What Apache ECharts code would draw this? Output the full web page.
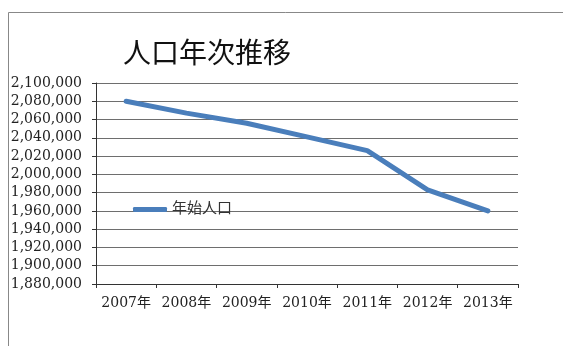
<!DOCTYPE html>
<html>
<head>
<meta charset="utf-8">
<script src="https://cdn.jsdelivr.net/npm/echarts@6/dist/echarts.min.js"></script>
<style>
  html, body { margin: 0; padding: 0; background: #fff; }
  #chart { width: 566px; height: 346px; }
</style>
</head>
<body>
<div id="chart"></div>
<script>
// 年始人口の推移
const years = ['2007年', '2008年', '2009年', '2010年', '2011年', '2012年', '2013年'];
const population = [2080000, 2067000, 2056000, 2041000, 2026000, 1983000, 1960000];
const seriesName = '年始人口';
const titleText = '人口年次推移';

const serif = '"DejaVu Serif", "Noto Sans CJK JP", serif';
const chart = echarts.init(document.getElementById('chart'), null, { renderer: 'canvas' });

chart.setOption({
  backgroundColor: '#ffffff',
  animation: false,
  title: {
    text: titleText,
    left: 118,
    top: 33,
    textStyle: { fontFamily: '"Noto Sans CJK JP", sans-serif', fontSize: 28, fontWeight: 'normal', color: '#111' }
  },
  legend: {
    data: [{ name: seriesName, icon: 'roundRect' }],
    left: 128,
    top: 197,
    itemWidth: 34,
    itemHeight: 5,
    itemGap: 2,
    textStyle: { fontFamily: serif, fontSize: 15, color: '#333' }
  },
  grid: { left: 96, right: 48, top: 83, bottom: 62 },
  xAxis: {
    type: 'category',
    data: years,
    boundaryGap: true,
    axisLine: { lineStyle: { color: '#333', width: 1 } },
    axisTick: { show: true, alignWithLabel: false, interval: 0, length: 4, lineStyle: { color: '#333' } },
    axisLabel: { interval: 0, margin: 12, fontFamily: serif, fontSize: 14, color: '#222' }
  },
  yAxis: {
    type: 'value',
    min: 1880000,
    max: 2100000,
    interval: 20000,
    axisLine: { show: true, lineStyle: { color: '#333', width: 1 } },
    axisTick: { show: true, length: 4, lineStyle: { color: '#333' } },
    axisLabel: {
      margin: 14,
      fontFamily: serif,
      fontSize: 14,
      color: '#222',
      formatter: v => v.toLocaleString('en-US')
    },
    splitLine: { show: true, lineStyle: { color: '#6e6e6e', width: 1 } }
  },
  series: [{
    name: seriesName,
    type: 'line',
    data: population,
    showSymbol: false,
    symbol: 'none',
    lineStyle: { color: '#4a7ebb', width: 5, cap: 'round', join: 'round' },
    itemStyle: { color: '#4a7ebb' }
  }],
  graphic: [{
    type: 'polyline',
    shape: { points: [[8.5, 346], [8.5, 12.5], [563, 12.5]] },
    style: { stroke: '#888', lineWidth: 1, fill: null },
    silent: true
  }]
});
</script>
</body>
</html>
